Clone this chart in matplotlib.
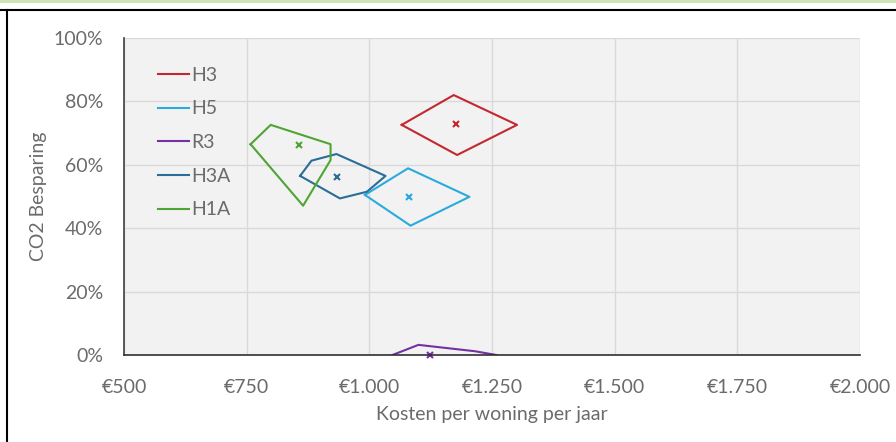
import matplotlib.pyplot as plt
from matplotlib.lines import Line2D

plt.rcParams['font.family'] = ['Lato', 'DejaVu Sans']

# polygon outlines (kosten, besparing %) and centre point per variant
h3_x = [1066, 1172, 1301, 1179, 1066]
h3_y = [72.6, 82.0, 72.6, 63.1, 72.6]
h3_c = (1176, 72.8)

h5_x = [991, 1079, 1204, 1084, 991]
h5_y = [50.5, 58.9, 49.9, 40.8, 50.5]
h5_c = (1081, 49.9)

r3_x = [1047, 1100, 1215, 1259]
r3_y = [0.0, 3.2, 1.2, 0.0]
r3_c = (1124, 0.0)

h3a_x = [859, 882, 933, 1033, 995, 940, 859]
h3a_y = [56.5, 61.3, 63.4, 56.5, 51.5, 49.4, 56.5]
h3a_c = (935, 56.2)

h1a_x = [758, 799, 921, 921, 865, 758]
h1a_y = [66.5, 72.6, 66.5, 61.5, 47.1, 66.5]
h1a_c = (857, 66.2)

series = [
    ("H3", h3_x, h3_y, h3_c, "#c3282f"),
    ("H5", h5_x, h5_y, h5_c, "#2aaadd"),
    ("R3", r3_x, r3_y, r3_c, "#7431a3"),
    ("H3A", h3a_x, h3a_y, h3a_c, "#286e98"),
    ("H1A", h1a_x, h1a_y, h1a_c, "#4fa533"),
]

xticks = [500, 750, 1000, 1250, 1500, 1750, 2000]
xticklabels = ["€500", "€750", "€1.000", "€1.250", "€1.500", "€1.750", "€2.000"]
yticks = [0, 20, 40, 60, 80, 100]
yticklabels = ["0%", "20%", "40%", "60%", "80%", "100%"]

grey = "#6b6b6b"

fig = plt.figure(figsize=(8.96, 4.42), dpi=100)
ax = fig.add_axes([0.1384, 0.1968, 0.8214, 0.7172])
ax.set_facecolor("#f2f2f2")

for name, xs, ys, c, col in series:
    ax.plot(xs, ys, color=col, lw=1.5, label=name)
    ax.plot([c[0]], [c[1]], marker="x", color=col, ms=4, mew=1.5, clip_on=False)

ax.set_xlim(500, 2000)
ax.set_ylim(0, 100)
ax.set_xticks(xticks)
ax.set_xticklabels(xticklabels)
ax.set_yticks(yticks)
ax.set_yticklabels(yticklabels)
ax.tick_params(length=0, labelsize=14, colors=grey)
ax.tick_params(axis="x", pad=17)
ax.tick_params(axis="y", pad=15)
ax.grid(True, color="#d9d9d9", lw=1)
ax.set_axisbelow(True)
for s in ["top", "right"]:
    ax.spines[s].set_visible(False)
ax.spines["left"].set_color("#404040")
ax.spines["bottom"].set_color("#303030")
ax.spines["left"].set_linewidth(1.2)
ax.spines["bottom"].set_linewidth(1.2)

ax.set_xlabel("Kosten per woning per jaar", fontsize=14, color=grey)
ax.set_ylabel("CO2 Besparing", fontsize=14, color=grey)
ax.xaxis.set_label_coords(0.5, -0.16)
ax.yaxis.set_label_coords(-0.104, 0.5)

leg = ax.legend(loc="upper left", bbox_to_anchor=(0.023, 0.965), frameon=False,
                fontsize=14, handlelength=1.55, handletextpad=0.15, labelspacing=0.86,
                labelcolor=grey)

# page frame
fig.add_artist(Line2D([0, 1], [1 - 10 / 442, 1 - 10 / 442], color="black", lw=1.5))
fig.add_artist(Line2D([7 / 896, 7 / 896], [0, 1 - 10 / 442], color="black", lw=1.5))
fig.add_artist(Line2D([0, 1], [1 - 1 / 442, 1 - 1 / 442], color="#c6e3b0", lw=2))

plt.savefig("out.png", dpi=100)
